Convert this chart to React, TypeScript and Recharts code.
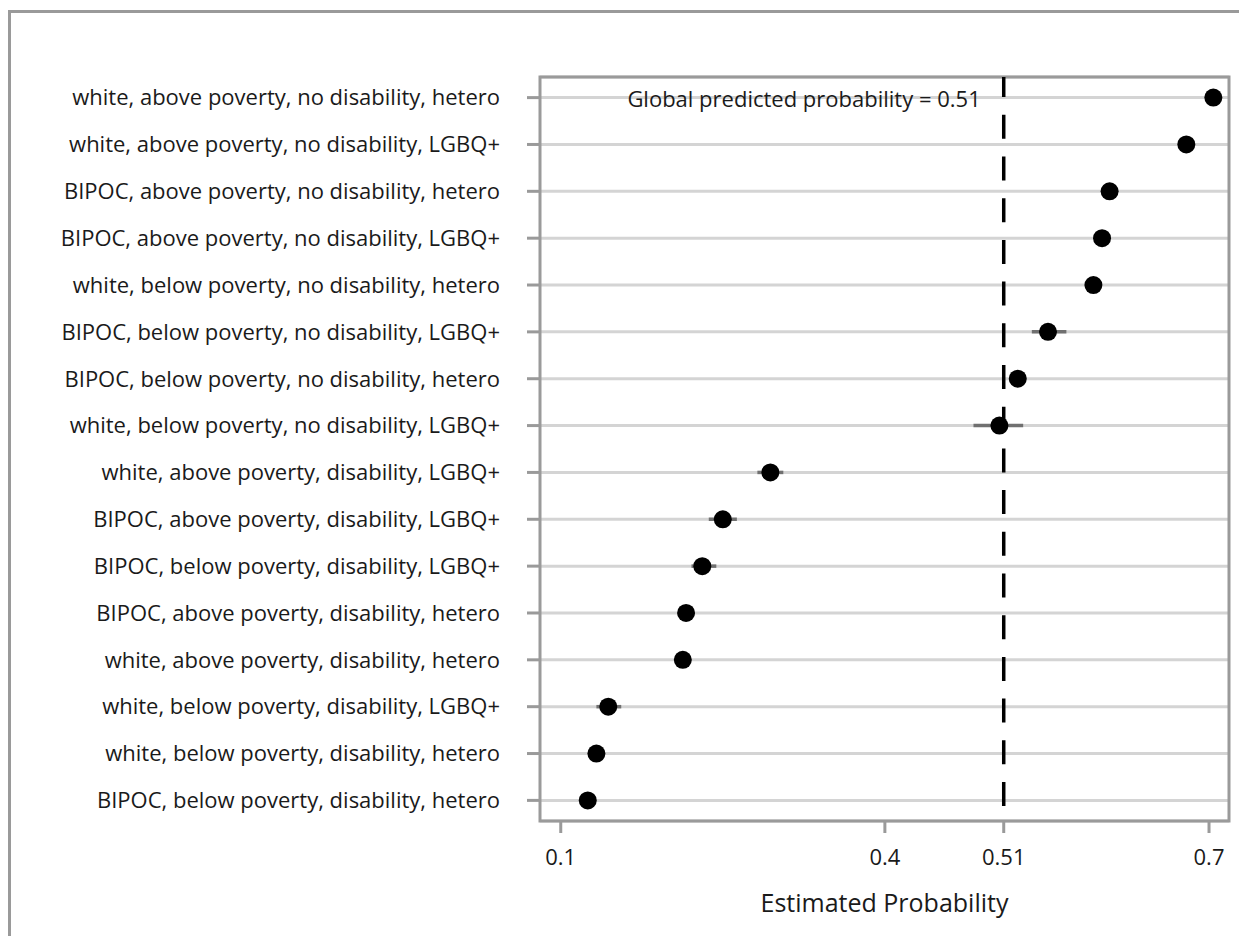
import {
  CartesianGrid,
  ErrorBar,
  ReferenceArea,
  ReferenceLine,
  Scatter,
  ScatterChart,
  XAxis,
  YAxis,
} from "recharts";

const LABELS = [
  "white, above poverty, no disability, hetero",
  "white, above poverty, no disability, LGBQ+",
  "BIPOC, above poverty, no disability, hetero",
  "BIPOC, above poverty, no disability, LGBQ+",
  "white, below poverty, no disability, hetero",
  "BIPOC, below poverty, no disability, LGBQ+",
  "BIPOC, below poverty, no disability, hetero",
  "white, below poverty, no disability, LGBQ+",
  "white, above poverty, disability, LGBQ+",
  "BIPOC, above poverty, disability, LGBQ+",
  "BIPOC, below poverty, disability, LGBQ+",
  "BIPOC, above poverty, disability, hetero",
  "white, above poverty, disability, hetero",
  "white, below poverty, disability, LGBQ+",
  "white, below poverty, disability, hetero",
  "BIPOC, below poverty, disability, hetero",
];

const ESTIMATES = [
  0.704, 0.679, 0.608, 0.601, 0.593, 0.551, 0.523, 0.506,
  0.294, 0.25, 0.231, 0.216, 0.213, 0.144, 0.133, 0.125,
];
const LOWER = [
  0.699, 0.674, 0.602, 0.594, 0.587, 0.536, 0.516, 0.482,
  0.282, 0.237, 0.221, 0.209, 0.208, 0.133, 0.127, 0.12,
];
const UPPER = [
  0.709, 0.684, 0.614, 0.608, 0.599, 0.568, 0.53, 0.528,
  0.306, 0.263, 0.244, 0.222, 0.218, 0.156, 0.139, 0.13,
];

const X_TICKS = [0.1, 0.4, 0.51, 0.7];
const GLOBAL_PROB = 0.51;

const X_DOMAIN: [number, number] = [0.0808, 0.7185];
const Y_DOMAIN: [number, number] = [0.56, 16.44];

const FONT = "'Open Sans', sans-serif";
const FRAME = "#9a9a9a";
const INK = "#1a1a1a";

const rows = LABELS.map((label, i) => ({
  row: i + 1,
  label,
  est: ESTIMATES[i],
  err: [ESTIMATES[i] - LOWER[i], UPPER[i] - ESTIMATES[i]],
}));

const Dot = (props: any) => (
  <circle cx={props.cx} cy={props.cy} r={9} fill="#000" />
);

// text sits left of the dashed line, level with the first row
const GlobalLabel = (props: any) => {
  const vb = props.viewBox || {};
  return (
    <text
      x={vb.x - 23}
      y={vb.y + 21}
      textAnchor="end"
      dominantBaseline="central"
      fontSize={22}
      fontFamily={FONT}
      fill={INK}
    >
      Global predicted probability = 0.51
    </text>
  );
};

export default function App() {
  return (
    <div>
      <div
        style={{
          position: "absolute",
          left: 8,
          top: 10,
          width: 1231,
          height: 926,
          boxSizing: "border-box",
          borderTop: `3px solid ${FRAME}`,
          borderLeft: `3px solid ${FRAME}`,
        }}
      />
      <div style={{ position: "absolute", left: 0, top: 0 }}>
        <ScatterChart
          width={1239}
          height={936}
          margin={{ top: 77, right: 10, bottom: 0, left: 0 }}
          style={{ fontFamily: FONT }}
        >
          <CartesianGrid vertical={false} stroke="#d4d4d4" strokeWidth={3} />
          <XAxis
            type="number"
            dataKey="est"
            domain={X_DOMAIN}
            allowDataOverflow
            ticks={X_TICKS}
            tickFormatter={(v: number) => String(v)}
            axisLine={false}
            tickLine={{ stroke: FRAME, strokeWidth: 3 }}
            tickSize={12}
            tickMargin={16}
            height={115}
            tick={{ fontSize: 22, fill: INK }}
            label={{
              value: "Estimated Probability",
              position: "insideBottom",
              offset: 24,
              fontSize: 25,
              fill: INK,
            }}
          />
          <YAxis
            type="number"
            dataKey="row"
            domain={Y_DOMAIN}
            allowDataOverflow
            reversed
            ticks={rows.map((r) => r.row)}
            interval={0}
            tickFormatter={(v: number) => LABELS[v - 1] ?? ""}
            axisLine={false}
            tickLine={{ stroke: FRAME, strokeWidth: 3 }}
            tickSize={13}
            tickMargin={27}
            width={540}
            tick={{ fontSize: 22, fill: INK }}
          />
          <ReferenceArea
            x1={X_DOMAIN[0]}
            x2={X_DOMAIN[1]}
            y1={Y_DOMAIN[0]}
            y2={Y_DOMAIN[1]}
            fill="none"
            stroke={FRAME}
            strokeWidth={3}
            ifOverflow="visible"
          />
          <ReferenceLine
            x={GLOBAL_PROB}
            stroke="#000"
            strokeWidth={3.5}
            strokeDasharray="24 17.7"
            strokeDashoffset={26.7}
            label={<GlobalLabel />}
          />
          <Scatter data={rows} shape={<Dot />} isAnimationActive={false}>
            <ErrorBar
              dataKey="err"
              direction="x"
              width={0}
              stroke="#707070"
              strokeWidth={3.5}
            />
          </Scatter>
        </ScatterChart>
      </div>
    </div>
  );
}
